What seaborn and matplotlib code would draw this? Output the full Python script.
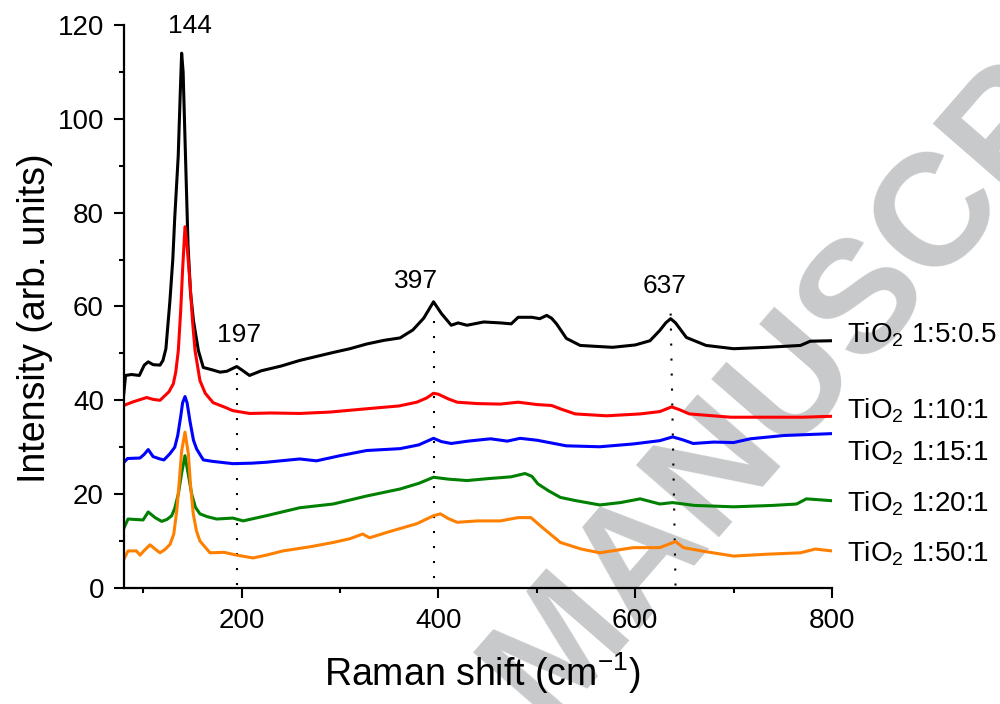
import matplotlib
matplotlib.use("Agg")
import matplotlib.pyplot as plt
import seaborn as sns
import pandas as pd
from matplotlib.ticker import MultipleLocator

# ---------------- data ----------------
samples = ["TiO$_2$ 1:5:0.5", "TiO$_2$ 1:10:1", "TiO$_2$ 1:15:1", "TiO$_2$ 1:20:1", "TiO$_2$ 1:50:1"]
colors = ["#000000", "#ff0000", "#0000ff", "#008000", "#ff8000"]

x_black = [80, 82, 88, 96, 101, 105, 110, 117, 120, 123, 127, 130, 132, 135.5, 137.5, 139, 140.5, 142.5,
           145.5, 148, 151, 156, 161, 170, 178, 185, 195, 200, 208, 220, 240, 259, 275, 293, 310, 327, 345,
           361, 374, 385, 395, 403, 413, 420, 429, 446, 463, 474, 481, 495, 503, 510, 515, 520, 530, 544,
           560, 577, 600, 615, 625, 631, 636, 641, 652, 672, 700, 734, 768, 778, 800]
y_black = [41, 45.3, 45.5, 45.3, 47.5, 48.2, 47.6, 47.5, 48.5, 51, 61, 70, 79, 92, 105, 114, 110, 95,
           73, 63, 57, 50.6, 47, 46.5, 46, 46.2, 47.2, 46.5, 45.3, 46.3, 47.3, 48.5, 49.3, 50.2, 51, 52, 52.8,
           53.3, 55, 57.5, 61, 58.5, 56, 56.5, 56, 56.7, 56.5, 56.3, 57.7, 57.7, 57.4, 58.1, 57.5, 56.3, 53.2, 51.7,
           51.5, 51.3, 51.8, 52.7, 54.9, 56.5, 57.4, 56.5, 53.4, 51.7, 51, 51.3, 51.7, 52.6, 52.7]

x_red = [80, 90, 103.5, 110, 117, 120, 126, 130.5, 133, 135.6, 138, 140, 142.4, 144.5, 147.5, 150, 152.6,
         157.6, 163, 171, 182, 191, 208, 230, 259, 290, 327, 360, 378, 388, 395, 400, 410, 419, 440, 463,
         481, 500, 515, 525, 539, 571, 605, 625, 637, 645, 655, 697, 734, 770, 800]
y_red = [38.9, 39.7, 40.6, 40.2, 40, 40.6, 41.8, 43.5, 46, 50.6, 59, 68, 77, 73, 65, 57, 50.6,
         44.2, 41.5, 39.5, 38.6, 37.8, 37.2, 37.3, 37.2, 37.5, 38.2, 38.8, 39.6, 40.5, 41.5, 41.3, 40.3, 39.6, 39.3, 39.2,
         39.6, 39.1, 38.9, 38.1, 37.1, 36.7, 37.1, 37.6, 38.6, 38, 37.1, 36.4, 36.4, 36.4, 36.6]

x_blue = [80, 84, 96.7, 101, 105, 110, 117, 121, 127, 132, 135, 138, 140, 142.4, 144.5, 147.5, 151, 154.3,
          161, 170, 191, 210, 225, 259, 276, 300, 327, 361, 380, 395, 403, 413, 430, 453, 470, 483, 500,
          515, 530, 564, 598, 625, 638, 648, 659, 680, 700, 717, 751, 800]
y_blue = [26.7, 27.6, 27.7, 28.5, 29.5, 28, 27.5, 27.3, 28.6, 30, 32.5, 36.5, 39.5, 40.8, 39.5, 35.5, 31.5, 29.6,
          27.3, 27, 26.5, 26.6, 26.8, 27.5, 27.1, 28.2, 29.3, 29.7, 30.5, 31.9, 31.2, 30.8, 31.3, 31.8, 31.3, 31.9, 31.5,
          30.9, 30.3, 30.1, 30.7, 31.4, 32.2, 31.6, 30.8, 31.1, 31, 31.8, 32.5, 32.9]

x_green = [80, 84.5, 99.8, 105, 112, 118.7, 124, 128.9, 132, 135.6, 139, 142.4, 145.5, 149.2, 153, 157.6,
           165, 174.6, 191, 201.5, 225, 259, 293, 327, 361, 380, 395, 410, 429, 450, 474, 488, 495, 501,
           512, 524, 540, 564, 585, 605, 625, 638, 660, 700, 740, 764, 774, 800]
y_green = [12.6, 14.7, 14.5, 16.2, 15, 14.2, 14.6, 15.4, 17, 20, 24.5, 28.2, 24.5, 20, 17.2, 15.8,
           15.2, 14.7, 14.9, 14.3, 15.4, 17.1, 17.9, 19.6, 21.1, 22.3, 23.6, 23.2, 22.9, 23.3, 23.7, 24.4, 23.8, 22.2,
           20.7, 19.3, 18.6, 17.7, 18.2, 19, 17.9, 18.2, 17.6, 17.3, 17.6, 17.9, 19, 18.6]

x_orange = [80, 84.5, 93, 96.7, 101, 106.8, 112, 117, 122, 127.2, 131, 134, 136.5, 139, 142.4, 145.8, 148,
            150.8, 154, 157.6, 167.8, 182, 195, 211.5, 225, 242, 270, 293, 310, 323, 330, 350, 378, 395,
            402, 410, 419, 440, 463, 481, 494, 505, 524, 545, 564, 598, 625, 641, 649, 670, 700, 734, 768,
            783, 800]
y_orange = [6, 7.9, 7.9, 7, 8, 9.2, 8.3, 7.5, 8.2, 9.3, 11.5, 16.4, 22.5, 29.2, 33.2, 28.6, 22,
            15.8, 12.2, 10, 7.5, 7.6, 7, 6.4, 7, 7.9, 8.8, 9.7, 10.5, 11.5, 10.7, 12, 13.7, 15.4,
            15.8, 14.8, 14, 14.3, 14.3, 15, 15, 13, 9.7, 8.3, 7.5, 8.6, 8.6, 9.9, 8.6, 7.8, 6.8, 7.2, 7.5,
            8.3, 7.9]

series_x = [x_black, x_red, x_blue, x_green, x_orange]
series_y = [y_black, y_red, y_blue, y_green, y_orange]

# labels at the right of the curves (baseline y values)
label_y = [52.3, 36.2, 27.1, 16.3, 5.6]
label_x = 815

# peak annotations
peak_labels = ["144", "197", "397", "637"]
peak_label_x = [147.6, 197.3, 377, 629.7]
peak_label_y = [118.3, 52.5, 63.9, 62.8]
# dotted guide lines
guide_top_x = [195, 395, 636]
guide_bot_x = [195, 395, 641]
guide_top_y = [49, 57, 58.5]

# ---------------- build table ----------------
rows = []
for name, xs, ys in zip(samples, series_x, series_y):
    for xv, yv in zip(xs, ys):
        rows.append({"shift": xv, "intensity": yv, "sample": name})
df = pd.DataFrame(rows)

# ---------------- style ----------------
sns.set_style("ticks")
plt.rcParams["font.family"] = ["Liberation Sans", "DejaVu Sans"]
plt.rcParams["mathtext.fontset"] = "custom"
plt.rcParams["mathtext.rm"] = "Liberation Sans"
plt.rcParams["mathtext.it"] = "Liberation Sans:italic"
plt.rcParams["mathtext.bf"] = "Liberation Sans:bold"
plt.rcParams["mathtext.default"] = "regular"
for key in ["text.color", "axes.labelcolor", "xtick.color", "ytick.color", "axes.edgecolor"]:
    plt.rcParams[key] = "black"

fig = plt.figure(figsize=(10, 7.04), dpi=100)
fig.patch.set_facecolor("white")

# watermark
fig.text(0.565, 0.075, "ACCEPTED MANUSCRIPT", rotation=49, rotation_mode="anchor",
         ha="center", va="center", fontsize=115, fontweight="bold", color="#c8c9cb", zorder=0)

ax = fig.add_axes([0.1236, 0.1648, 0.7084, 0.7997])
ax.set_facecolor("none")
ax.set_zorder(1)

sns.lineplot(data=df, x="shift", y="intensity", hue="sample", palette=colors,
             hue_order=samples, sort=False, estimator=None, legend=False,
             linewidth=2.2, ax=ax)

for xt, xb, yt in zip(guide_top_x, guide_bot_x, guide_top_y):
    ax.plot([xt, xb], [yt, 0], color="black", lw=1.5, ls=(0, (1, 6.2)),
            dash_capstyle="butt", zorder=1)

for t, xv, yv in zip(peak_labels, peak_label_x, peak_label_y):
    ax.text(xv, yv, t, ha="center", va="baseline", fontsize=19, color="black", clip_on=False)

for name, yv in zip(samples, label_y):
    ax.text(label_x, yv, name, ha="left", va="baseline", fontsize=20, color="black", clip_on=False)

ax.set_xlim(80, 800)
ax.set_ylim(0, 120)
ax.xaxis.set_major_locator(MultipleLocator(200))
ax.xaxis.set_minor_locator(MultipleLocator(100))
ax.yaxis.set_major_locator(MultipleLocator(20))
ax.yaxis.set_minor_locator(MultipleLocator(10))

for side in ["top", "right"]:
    ax.spines[side].set_visible(False)
for side in ["left", "bottom"]:
    ax.spines[side].set_linewidth(1.6)
    ax.spines[side].set_color("black")

ax.tick_params(which="major", direction="out", length=7.2, width=1.5, labelsize=20, pad=7,
               colors="black")
ax.tick_params(which="minor", direction="out", length=3.6, width=1.5, colors="black")

ax.set_xlabel("Raman shift (cm$^{-1}$)", fontsize=27, color="black")
ax.set_ylabel("Intensity (arb. units)", fontsize=27, color="black")
ax.xaxis.set_label_coords(0.507, -0.110)
ax.yaxis.set_label_coords(-0.0997, 0.48)

fig.savefig("out.png", dpi=100)
